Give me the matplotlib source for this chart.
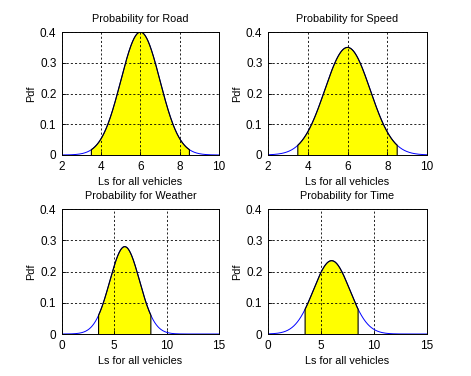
import matplotlib
matplotlib.use('Agg')
import matplotlib.pyplot as plt
import numpy as np

plt.rcParams['font.family'] = ['Liberation Sans', 'DejaVu Sans']
plt.rcParams['font.size'] = 7.8

# values
titles = ['Probability for Road', 'Probability for Speed',
          'Probability for Weather', 'Probability for Time']
mean = [6, 6, 6, 6]
peak = [0.40, 0.35, 0.28, 0.235]        # height of each curve
fill_lo = [3.5, 3.5, 3.5, 3.5]
fill_hi = [8.5, 8.5, 8.5, 8.5]
xlims = [(2, 10), (2, 10), (0, 15), (0, 15)]
xticks = [[2, 4, 6, 8, 10], [2, 4, 6, 8, 10], [0, 5, 10, 15], [0, 5, 10, 15]]
yticks = [0, 0.1, 0.2, 0.3, 0.4]
ytick_labels = ['0', '0.1', '0.2', '0.3', '0.4']

positions = [[0.1316, 0.5878, 0.333, 0.327],
             [0.569, 0.5878, 0.3376, 0.327],
             [0.1316, 0.1117, 0.333, 0.332],
             [0.569, 0.1117, 0.3376, 0.332]]

fig = plt.figure(figsize=(4.71, 3.76), dpi=100)

for i in range(4):
    ax = fig.add_axes(positions[i])
    sigma = 1 / (peak[i] * np.sqrt(2 * np.pi))
    x = np.linspace(xlims[i][0], xlims[i][1], 600)
    y = peak[i] * np.exp(-0.5 * ((x - mean[i]) / sigma) ** 2)
    ax.plot(x, y, color='blue', linewidth=0.7)
    xf = np.linspace(fill_lo[i], fill_hi[i], 300)
    yf = peak[i] * np.exp(-0.5 * ((xf - mean[i]) / sigma) ** 2)
    ax.fill_between(xf, 0, yf, facecolor='yellow', edgecolor='none')
    ax.plot(np.r_[xf[0], xf, xf[-1]], np.r_[0, yf, 0], color='black', linewidth=0.8)
    ax.set_xlim(xlims[i])
    ax.set_ylim(0, 0.4)
    ax.set_xticks(xticks[i])
    ax.set_yticks(yticks)
    ax.set_yticklabels(ytick_labels)
    ax.grid(True, color='black', linestyle=(0, (2.5, 2.5)), linewidth=0.6)
    ax.tick_params(direction='in', length=3, width=0.6, pad=4, labelsize=8.5)
    for s in ax.spines.values():
        s.set_linewidth(0.7)
    ax.set_title(titles[i], fontsize=7.8, pad=7)
    ax.set_xlabel('Ls for all vehicles', labelpad=3)
    ax.set_ylabel('Pdf', labelpad=3)

fig.savefig('out.png', dpi=100)
